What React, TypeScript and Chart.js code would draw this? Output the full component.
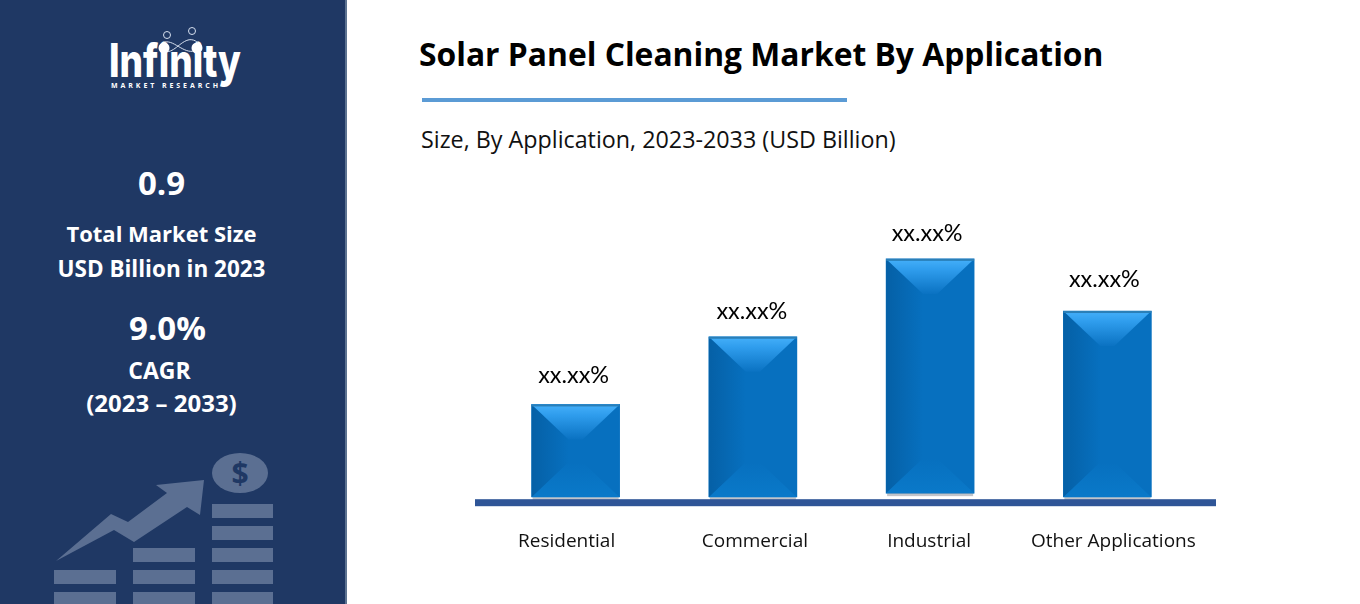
import React, { useEffect, useRef } from "react";
import { Chart, registerables } from "chart.js";

Chart.register(...registerables);

const categories = ["Residential", "Commercial", "Industrial", "Other Applications"];
const barStarts = [0, 0, 0.6, 0];
const barEnds = [13.7, 23.7, 35.2, 27.5];
const valueLabels = ["xx.xx%", "xx.xx%", "xx.xx%", "xx.xx%"];
const sidebarStats = ["0.9", "Total Market Size", "USD Billion in 2023", "9.0%", "CAGR", "(2023 – 2033)"];
const titleText = "Solar Panel Cleaning Market By Application";
const subtitleText = "Size, By Application, 2023-2033 (USD Billion)";

const labelNudgeX = [-9, 2, -1, 6];
const valueNudge = [[-2, -29], [-1, -25.5], [-3, -25], [-3, -32]];

const bevelPlugin = {
  id: "bevel",
  afterDatasetsDraw(chart: any) {
    const { ctx } = chart;
    const bars = chart.getDatasetMeta(0).data;
    bars.forEach((b: any, i: number) => {
      const l = b.x - b.width / 2, r = b.x + b.width / 2, t = b.y, bt = b.base;
      const depth = 35, inset = 37;
      ctx.save();
      ctx.fillStyle = "rgba(120,125,135,0.45)";
      ctx.fillRect(l + 1, bt, b.width - 2, 3);
      const side = ctx.createLinearGradient(l, 0, l + inset, 0);
      side.addColorStop(0, "#0560a6");
      side.addColorStop(1, "#0770bf");
      ctx.fillStyle = side;
      ctx.beginPath();
      ctx.moveTo(l, t); ctx.lineTo(l + inset, t + depth); ctx.lineTo(l + inset, bt - depth); ctx.lineTo(l, bt);
      ctx.closePath(); ctx.fill();
      const top = ctx.createLinearGradient(0, t, 0, t + depth);
      top.addColorStop(0, "#45b0fa");
      top.addColorStop(0.3, "#2f9ded");
      top.addColorStop(1, "#0a72c2");
      ctx.fillStyle = top;
      ctx.beginPath();
      ctx.moveTo(l, t); ctx.lineTo(r, t); ctx.lineTo(r - inset, t + depth); ctx.lineTo(l + inset, t + depth);
      ctx.closePath(); ctx.fill();
      const bot = ctx.createLinearGradient(0, bt - depth, 0, bt);
      bot.addColorStop(0, "#0770bf");
      bot.addColorStop(1, "#0a79c9");
      ctx.fillStyle = bot;
      ctx.beginPath();
      ctx.moveTo(l, bt); ctx.lineTo(r, bt); ctx.lineTo(r - inset, bt - depth); ctx.lineTo(l + inset, bt - depth);
      ctx.closePath(); ctx.fill();
      ctx.fillStyle = "#2a7fb8";
      ctx.fillRect(l, t, b.width, 2);
      ctx.fillStyle = "#000";
      ctx.font = "23.4px Lato";
      ctx.textAlign = "center";
      ctx.textBaseline = "middle";
      ctx.fillText(valueLabels[i], b.x + valueNudge[i][0], t + valueNudge[i][1]);
      ctx.restore();
    });
  },
};

const axisLabelPlugin = {
  id: "axisLabelNudge",
  beforeDraw(chart: any) {
    const x = chart.scales.x;
    x.getLabelItems(chart.chartArea).forEach((it: any, i: number) => {
      it.options.translation[0] = x.getPixelForTick(i) + labelNudgeX[i];
    });
  },
};

const axisLinePlugin = {
  id: "baseline",
  afterDatasetsDraw(chart: any) {
    const { ctx } = chart;
    const y = chart.scales.y.getPixelForValue(0);
    ctx.save();
    ctx.fillStyle = "#2f5597";
    ctx.fillRect(128, y + 2, 741, 7);
    ctx.restore();
  },
};

function Sidebar() {
  const base: React.CSSProperties = {
    position: "absolute", left: 0, width: 323, textAlign: "center", color: "#fff",
    fontFamily: "'Open Sans'", fontWeight: 700, whiteSpace: "nowrap",
  };
  const rows: [number, number, number, number][] = [
    [183, 33, 0, 0], [233, 22, 1, 0], [268, 22.5, 2, 0], [328, 33, 3, 6], [370, 23, 4, -2], [403, 24, 5, 0],
  ];
  return (
    <div style={{ position: "absolute", left: 0, top: 0, width: 345, height: 604, background: "#1f3864", overflow: "hidden", borderRight: "2px solid #5d7391" }}>
      {rows.map(([y, size, i, dx]) => (
        <div key={i} style={{ ...base, left: dx, top: y - size, height: size * 2, lineHeight: `${size * 2}px`, fontSize: size }}>{sidebarStats[i]}</div>
      ))}
      <svg width={345} height={604} style={{ position: "absolute", left: 0, top: 0 }}>
        <text x={109} y={77} fontFamily="Inter" fontWeight={800} fontSize={46} fill="#fff" textLength={132} lengthAdjust="spacingAndGlyphs">Infinity</text>
        <text x={111} y={88} fontFamily="'Open Sans'" fontWeight={700} fontSize={7} fill="#fff" textLength={107}>MARKET RESEARCH</text>
        <g fill="none" stroke="#d5dfee" strokeWidth={1}>
          <circle cx={167} cy={35} r={3.5} /><circle cx={192} cy={31} r={3.5} />
          <path d="M165 42 C175 40 185 56 197 50 C203 45 195 38 188 40 C178 43 172 56 162 50" />
        </g>
        <circle cx={164} cy={48} r={5.5} fill="#fff" /><circle cx={197} cy={48} r={5.5} fill="#fff" />
        <g fill="#5b6f92">
          <path d="M56 561 L111 514 L128 522 L167 493 L156 485 L204 480 L200 515 L187 507 L134 542 L114 530 Z" />
          <ellipse cx={240} cy={473} rx={28} ry={20} />
          {[504, 526, 548, 570, 592].map((y) => <rect key={y} x={212} y={y} width={61} height={14} />)}
          {[548, 570, 592].map((y) => <rect key={y} x={133} y={y} width={62} height={14} />)}
          {[570, 592].map((y) => <rect key={y} x={54} y={y} width={62} height={14} />)}
        </g>
        <text x={240} y={484} textAnchor="middle" fontFamily="'Open Sans'" fontWeight={700} fontSize={30} fill="#1f3864">$</text>
      </svg>
    </div>
  );
}

export default function App() {
  const ref = useRef<HTMLCanvasElement>(null);
  useEffect(() => {
    const canvas = ref.current!;
    const chart = new Chart(canvas, {
      type: "bar",
      data: {
        labels: categories,
        datasets: [{
          data: barEnds.map((end, i) => [barStarts[i], end]),
          backgroundColor: "#0770bf",
          borderWidth: 0,
          barThickness: 88,
        }],
      },
      options: {
        animation: false,
        responsive: false,
        layout: { padding: { left: 140, right: 164, top: 91, bottom: 18 } },
        plugins: { legend: { display: false }, tooltip: { enabled: false } },
        scales: {
          x: {
            grid: { display: false, drawTicks: false },
            border: { display: false },
            ticks: { color: "#111", padding: 33, font: { family: "'Open Sans'", size: 19 }, maxRotation: 0, autoSkip: false },
          },
          y: { display: false, min: 0, max: 60 },
        },
      },
      plugins: [axisLabelPlugin, bevelPlugin, axisLinePlugin],
    });
    return () => chart.destroy();
  }, []);
  return (
    <div style={{ position: "relative", width: 1360, height: 604, background: "#fff", overflow: "hidden" }}>
      <style>{"body{margin:0;background:#fff}"}</style>
      <Sidebar />
      <div style={{ position: "absolute", left: 419, top: 33, fontFamily: "'Open Sans'", fontWeight: 700, fontSize: 31.8, lineHeight: "42px", color: "#000", whiteSpace: "nowrap" }}>{titleText}</div>
      <div style={{ position: "absolute", left: 422, top: 98, width: 425, height: 4, background: "#5b9bd5" }} />
      <div style={{ position: "absolute", left: 421, top: 124, fontFamily: "'Open Sans'", fontSize: 23.3, lineHeight: "30px", color: "#111", whiteSpace: "nowrap" }}>{subtitleText}</div>
      <canvas ref={ref} width={1013} height={604} style={{ position: "absolute", left: 347, top: 0, display: "block" }} />
    </div>
  );
}
